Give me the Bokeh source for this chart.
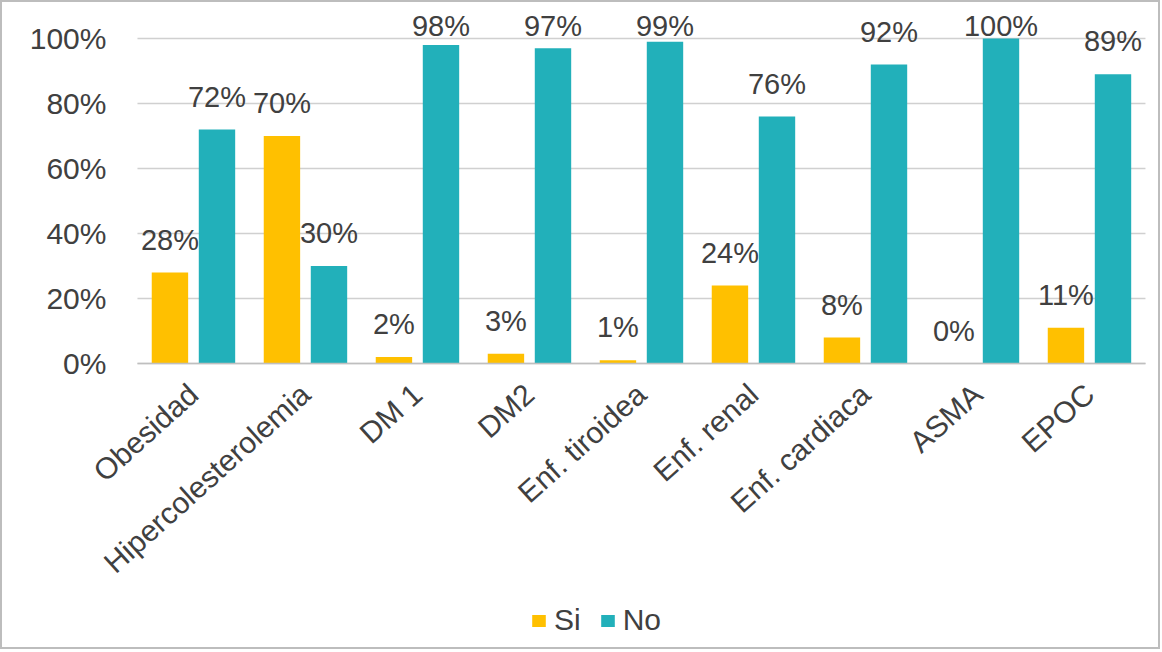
import numpy as np
from math import pi
from bokeh.plotting import figure
from bokeh.models import (ColumnDataSource, Legend, LegendItem, FixedTicker,
                          CustomJSTickFormatter, Range1d)
from bokeh.transform import dodge
from bokeh.core.properties import value
from bokeh.embed import file_html
from bokeh.resources import INLINE

categories = ["Obesidad", "Hipercolesterolemia", "DM 1", "DM2", "Enf. tiroidea",
              "Enf. renal", "Enf. cardiaca", "ASMA", "EPOC"]
si = [28, 70, 2, 3, 1, 24, 8, 0, 11]
no = [72, 30, 98, 97, 99, 76, 92, 100, 89]
y_ticks = [0, 20, 40, 60, 80, 100]

FONT = "Liberation Sans"
TXT = "#404040"
C_SI = "#FFC000"
C_NO = "#22B0BA"
GRID = "#D0D0D0"

n = len(categories)
idx = np.arange(n, dtype=float)
si_arr = np.array(si, dtype=float)
no_arr = np.array(no, dtype=float)
src = ColumnDataSource(dict(
    x=idx,
    si=si_arr, no=no_arr,
    si_lab=[f"{v}%" for v in si], no_lab=[f"{v}%" for v in no],
    si_ly=np.minimum(si_arr + 5.2, 99.0), no_ly=np.minimum(no_arr + 5.2, 99.0),
))
grid_src = ColumnDataSource(dict(y=y_ticks))

p = figure(x_range=Range1d(-1.705, n - 0.5 + 0.152), y_range=Range1d(-88.6, 111.08),
           width=1160, height=649, output_backend="svg", toolbar_location=None,
           min_border_left=0, min_border_right=0, min_border_top=0, min_border_bottom=0)
p.styles = {"border": "2px solid #BDBDBD", "box-sizing": "border-box"}

# horizontal gridlines limited to the plot area
p.segment(x0=-0.5, x1=n - 0.5, y0="y", y1="y", source=grid_src,
          line_color=GRID, line_width=1.5)

off = 0.21
w = 0.325
r_si = p.vbar(x=dodge("x", -off), top="si", width=w, source=src,
              fill_color=C_SI, line_color=None)
r_no = p.vbar(x=dodge("x", off), top="no", width=w, source=src,
              fill_color=C_NO, line_color=None)

for ycol, lcol, o in [("si_ly", "si_lab", -off), ("no_ly", "no_lab", off)]:
    p.text(x=dodge("x", o), y=ycol, text=lcol, source=src,
           text_font=value(FONT), text_font_size="29px", text_color=TXT,
           text_align="center", text_baseline="bottom")

p.outline_line_color = None
p.background_fill_color = "white"
p.border_fill_color = "white"
p.xgrid.visible = False
p.ygrid.visible = False

p.yaxis.fixed_location = -0.5
p.yaxis.ticker = FixedTicker(ticks=y_ticks)
p.yaxis.formatter = CustomJSTickFormatter(code="return tick + '%';")
p.yaxis.axis_line_color = None
p.yaxis.major_tick_line_color = None
p.yaxis.minor_tick_line_color = None
p.yaxis.major_label_text_font = FONT
p.yaxis.major_label_text_font_size = "30px"
p.yaxis.major_label_text_color = TXT
p.yaxis.major_label_standoff = 25

p.xaxis.fixed_location = 0
p.xaxis.bounds = (-0.5, n - 0.5)
p.xaxis.ticker = FixedTicker(ticks=list(range(n)))
p.xaxis.formatter = CustomJSTickFormatter(args=dict(names=categories),
                                          code="return names[Math.round(tick)];")
p.xaxis.axis_line_color = "#BFBFBF"
p.xaxis.axis_line_width = 1.5
p.xaxis.major_tick_line_color = None
p.xaxis.minor_tick_line_color = None
p.xaxis.major_label_orientation = 42 * pi / 180
p.xaxis.major_label_text_font = FONT
p.xaxis.major_label_text_font_size = "30px"
p.xaxis.major_label_text_color = TXT
p.xaxis.major_label_standoff = 20

legend = Legend(items=[LegendItem(label="Si", renderers=[r_si]),
                       LegendItem(label="No", renderers=[r_no])],
                orientation="horizontal", location=(528, 14),
                label_text_font=FONT, label_text_font_size="30px", label_text_color=TXT,
                glyph_width=17, glyph_height=15, label_standoff=7, spacing=18,
                padding=0, margin=0, border_line_color=None, background_fill_alpha=0)
p.add_layout(legend, "center")

open("out.html", "w").write(file_html(p, INLINE))
